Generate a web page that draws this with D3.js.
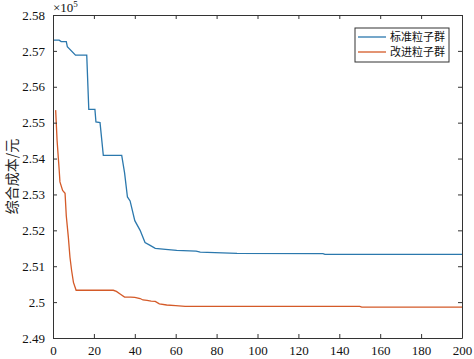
<!DOCTYPE html>
<html>
<head>
<meta charset="utf-8">
<script src="https://cdn.jsdelivr.net/npm/d3@7"></script>
<style>
  body { margin: 0; background: #fff; }
  svg { display: block; }
</style>
</head>
<body>
<svg id="chart" width="474" height="359"></svg>
<script>
// iteration / cost (x1e5)
const stdIter = [0, 3, 4, 6.5, 7, 11, 16.5, 17.5, 20.5, 21, 23, 24.6, 33.6, 35, 36.4, 37.7, 40, 42.6, 45, 47.5, 50, 55, 60.5, 70, 72, 90, 132, 133, 200];
const stdCost = [2.5730, 2.5730, 2.5726, 2.5726, 2.5712, 2.5688, 2.5688, 2.5537, 2.5537, 2.5502, 2.5500, 2.5409, 2.5409, 2.5360, 2.5293, 2.5282, 2.5227, 2.5200, 2.5166, 2.5158, 2.5150, 2.5147, 2.5144, 2.5142, 2.5139, 2.5136, 2.5135, 2.5133, 2.5133];

const impIter = [1.3, 2, 3, 3.4, 4.7, 5.9, 6.5, 7.5, 8.3, 9.1, 10, 11.3, 29.5, 31, 33, 35, 38, 40, 42.6, 44, 46, 48, 50, 52, 55.6, 60, 64.6, 150, 151, 200];
const impCost = [2.5535, 2.5450, 2.5370, 2.5335, 2.5311, 2.5303, 2.5240, 2.5181, 2.5125, 2.5088, 2.5055, 2.5033, 2.5033, 2.5030, 2.5022, 2.5014, 2.5014, 2.5013, 2.5010, 2.5006, 2.5005, 2.5003, 2.5002, 2.4995, 2.4992, 2.4990, 2.4988, 2.4988, 2.4986, 2.4986];

const xTicks = [0, 20, 40, 60, 80, 100, 120, 140, 160, 180, 200];
const yTicks = [2.49, 2.5, 2.51, 2.52, 2.53, 2.54, 2.55, 2.56, 2.57, 2.58];
const seriesNames = ["标准粒子群", "改进粒子群"];
const seriesColors = ["#2b78ad", "#d45a28"];

const SERIF = "Liberation Serif, DejaVu Serif, serif";
const CJK = "Noto Sans CJK SC, sans-serif";

const svg = d3.select("#chart");
const M = {left: 53, right: 462, top: 15, bottom: 338};

const x = d3.scaleLinear().domain([0, 200]).range([M.left, M.right]);
const y = d3.scaleLinear().domain([2.49, 2.58]).range([M.bottom, M.top]);

// lines
const line = d3.line().x(d => x(d[0])).y(d => y(d[1]));
const series = [
  d3.zip(stdIter, stdCost),
  d3.zip(impIter, impCost)
];
series.forEach((s, i) => {
  svg.append("path")
    .attr("d", line(s))
    .attr("fill", "none")
    .attr("stroke", seriesColors[i])
    .attr("stroke-width", 1.3);
});

// axes box (MATLAB style ticks inside)
function styleAxis(g) {
  g.attr("font-family", SERIF).attr("font-size", 13);
  g.select(".domain").attr("stroke", "#333");
  g.selectAll(".tick line").attr("stroke", "#333");
  g.selectAll("text").style("font-family", SERIF).style("font-size", "13px").attr("fill", "#111");
}
svg.append("g").attr("transform", `translate(0,${M.bottom})`)
  .call(d3.axisBottom(x).tickValues(xTicks).tickSizeInner(-4).tickSizeOuter(0).tickPadding(8))
  .call(styleAxis);
svg.append("g").attr("transform", `translate(0,${M.top})`)
  .call(d3.axisTop(x).tickValues(xTicks).tickSizeInner(-4).tickSizeOuter(0).tickFormat(""))
  .call(styleAxis);
svg.append("g").attr("transform", `translate(${M.left},0)`)
  .call(d3.axisLeft(y).tickValues(yTicks).tickSizeInner(-4).tickSizeOuter(0).tickPadding(8)
    .tickFormat(d => String(+d.toFixed(2))))
  .call(styleAxis);
svg.append("g").attr("transform", `translate(${M.right},0)`)
  .call(d3.axisRight(y).tickValues(yTicks).tickSizeInner(-4).tickSizeOuter(0).tickFormat(""))
  .call(styleAxis);

// exponent
const exp = svg.append("text").attr("x", M.left).attr("y", 12)
  .style("font-family", SERIF).style("font-size", "13px").attr("fill", "#111");
exp.append("tspan").text("×10");
exp.append("tspan").attr("dy", -5).style("font-size", "9px").text("5");

// y label
svg.append("text")
  .attr("transform", `translate(17,${(M.top + M.bottom) / 2}) rotate(-90)`)
  .attr("text-anchor", "middle")
  .style("font-family", CJK).style("font-size", "14px").attr("fill", "#222")
  .text("综合成本/元");

// legend
const lg = svg.append("g");
lg.append("rect").attr("x", 355).attr("y", 28).attr("width", 94).attr("height", 34)
  .attr("fill", "#fff").attr("stroke", "#333").attr("stroke-width", 1);
seriesNames.forEach((name, i) => {
  const ly = 37 + i * 15;
  lg.append("line").attr("x1", 358).attr("x2", 386).attr("y1", ly).attr("y2", ly)
    .attr("stroke", seriesColors[i]).attr("stroke-width", 1.3);
  lg.append("text").attr("x", 390).attr("y", ly + 4)
    .style("font-family", CJK).style("font-size", "11px").attr("fill", "#111")
    .text(name);
});
</script>
</body>
</html>
